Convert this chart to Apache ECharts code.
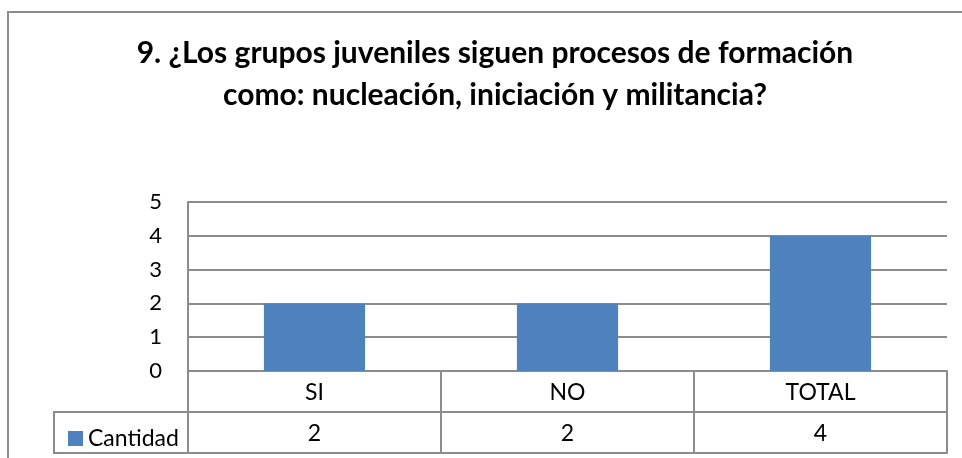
<!DOCTYPE html>
<html>
<head>
<meta charset="utf-8">
<script src="https://cdn.jsdelivr.net/npm/echarts@6/dist/echarts.min.js"></script>
<style>
  html, body { margin: 0; padding: 0; background: #fff; }
  #main { width: 962px; height: 458px; }
</style>
</head>
<body>
<div id="main"></div>
<script>
// datos del grafico
var categorias = ['SI', 'NO', 'TOTAL'];
var cantidad = [2, 2, 4];
var serieNombre = 'Cantidad';
var titulo = '9. ¿Los grupos juveniles siguen procesos de formación\ncomo: nucleación, iniciación y militancia?';

var gris = '#8c8c8c';
var fuente = 'Lato, "Liberation Sans", sans-serif';

var myChart = echarts.init(document.getElementById('main'));
var option = {
    animation: false,
    backgroundColor: '#fff',
    title: {
        text: titulo,
        left: 490,
        top: 27,
        textAlign: 'center',
        textStyle: {
            fontFamily: fuente,
            fontWeight: 'bold',
            fontSize: 30,
            lineHeight: 42,
            color: '#000'
        }
    },
    legend: {
        data: [serieNombre],
        left: 63,
        top: 422,
        icon: 'rect',
        itemWidth: 15,
        itemHeight: 15,
        itemGap: 5,
        textStyle: { fontFamily: fuente, fontSize: 23, color: '#000' }
    },
    grid: {
        left: 188,
        right: 15,
        top: 202,
        bottom: 87
    },
    xAxis: [
        {
            type: 'category',
            data: categorias,
            axisLine: { show: true, lineStyle: { color: gris, width: 2 } },
            axisTick: { show: true, length: 82, lineStyle: { color: gris, width: 2 } },
            axisLabel: { fontFamily: fuente, fontSize: 23, color: '#000', margin: 10 }
        },
        {
            type: 'category',
            data: cantidad.map(String),
            position: 'bottom',
            offset: 41,
            axisLine: { show: true, lineStyle: { color: gris, width: 2 } },
            axisTick: { show: false },
            axisLabel: { fontFamily: fuente, fontSize: 23, color: '#000', margin: 10 }
        },
        {
            type: 'category',
            data: categorias,
            position: 'bottom',
            offset: 82,
            axisLine: { show: true, lineStyle: { color: gris, width: 2 } },
            axisTick: { show: false },
            axisLabel: { show: false }
        }
    ],
    yAxis: [
        {
            type: 'value',
            min: 0,
            max: 5,
            interval: 1,
            axisLine: { show: true, lineStyle: { color: gris, width: 2 } },
            axisTick: { show: false },
            axisLabel: { fontFamily: fuente, fontSize: 22, color: '#000', margin: 26 },
            splitLine: { show: true, lineStyle: { color: gris, width: 2 } }
        }
    ],
    series: [
        {
            name: serieNombre,
            type: 'bar',
            data: cantidad,
            barWidth: '40%',
            itemStyle: { color: '#4f81bd' }
        }
    ],
    graphic: [
        // marco del grafico
        {
            type: 'rect',
            shape: { x: 8, y: 12, width: 980, height: 480 },
            style: { fill: 'none', stroke: gris, lineWidth: 2 },
            silent: true
        },
        // celda de la leyenda en la tabla
        {
            type: 'rect',
            shape: { x: 54, y: 412, width: 134, height: 41 },
            style: { fill: 'none', stroke: gris, lineWidth: 2 },
            silent: true
        }
    ]
};

myChart.setOption(option);
</script>
</body>
</html>
